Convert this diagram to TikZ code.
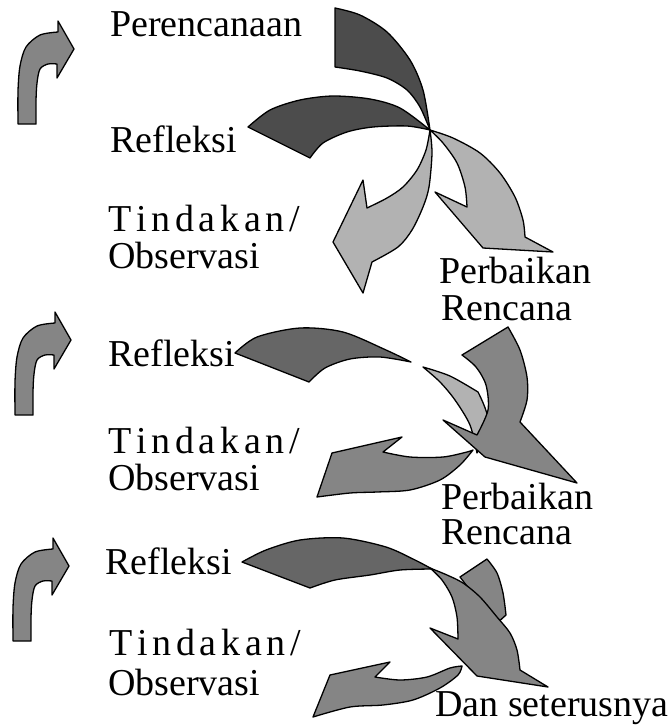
\documentclass[tikz,border=0pt]{standalone}
\usepackage{fontspec}
\setmainfont{Liberation Serif}
\newcommand{\tdk}{T\kern4.7pt i\kern4.7pt n\kern4.7pt d\kern4.7pt a\kern4.7pt k\kern4.7pt a\kern4.7pt n\kern4.7pt /}
\begin{document}
\begin{tikzpicture}[x=1pt,y=-1pt,
  shp/.style={draw=black,line width=1.3pt,line join=round},
  dk/.style={shp,fill=black!70},
  mdk/.style={shp,fill=black!60},
  md/.style={shp,fill=black!48},
  lt/.style={shp,fill=black!30},
  lbl/.style={anchor=base west,inner sep=0pt,font=\fontsize{38}{40}\selectfont}]
\useasboundingbox (0,0) rectangle (672,726);
\fill[white] (0,0) rectangle (672,726);

% ---------- left icons ----------
\foreach \px/\py/\nm in {58/21/a,55/312/b,53/538/c}{
  \begin{scope}[shift={(\px,\py)}]
  \path[md] (0,0) -- (16,28) -- (-1,57) -- (-1,43)
    -- plot[smooth] coordinates {(-1,43) (-10,43) (-18,48) (-21,62) (-22,80) (-22,103)}
    -- (-40,103)
    -- plot[smooth] coordinates {(-40,103) (-40,70) (-38,45) (-32,26) (-18,14) (0,11)}
    -- cycle;
  \end{scope}
}

% ---------- top cycle ----------
\path[lt] plot[smooth] coordinates {(430,130) (432,153) (429,187) (423,207) (412,230) (398,247) (372,262)}
  -- (363,293) -- (333,242) -- (363,180) -- (367,208)
  -- plot[smooth] coordinates {(367,208) (387,198) (403,187) (417,170) (426,150) (430,130)} -- cycle;
\path[lt] plot[smooth] coordinates {(430,130) (453,138) (480,153) (500,173) (515,197) (523,220) (525,237)}
  -- (553,252) -- (483,248) -- (435,192) -- (467,207)
  -- plot[smooth] coordinates {(467,207) (465,187) (457,163) (443,143) (430,130)} -- cycle;
\path[dk] plot[smooth] coordinates {(335,8) (360,15) (387,32) (410,60) (423,90) (430,130)}
  -- plot[smooth] coordinates {(430,130) (420,107) (407,90) (387,78) (360,71) (335,67)} -- cycle;
\path[dk] plot[smooth] coordinates {(248,127) (270,110) (300,100) (333,96) (370,99) (400,108) (430,130)}
  -- plot[smooth] coordinates {(430,130) (407,126) (373,127) (347,132) (323,143) (310,158)} -- cycle;

% ---------- middle cycle ----------
\path[mdk] plot[smooth] coordinates {(235,353) (257,337) (300,328) (343,332) (386,350) (411,362)}
  -- plot[smooth] coordinates {(411,362) (380,357) (350,359) (325,368) (309,382)} -- cycle;
\path[lt] plot[smooth] coordinates {(423,367) (450,376) (478,392)}
  -- plot[smooth] coordinates {(478,392) (488,420) (477,453)}
  -- plot[smooth] coordinates {(477,453) (470,425) (455,400) (440,382) (423,367)} -- cycle;
\path[md] plot[smooth] coordinates {(473,450) (467,452) (443,457) (410,457) (383,452)}
  -- (402,437) -- (332,453) -- (317,497)
  -- plot[smooth] coordinates {(317,497) (350,493) (377,492) (410,490) (440,480) (460,465) (473,450)} -- cycle;
\path[md] (462,355) -- (508,327)
  -- plot[smooth] coordinates {(508,327) (520,350) (527,377) (527,400) (520,422)}
  -- (577,483) -- (485,457) -- (443,420) -- (477,435)
  -- plot[smooth] coordinates {(477,435) (488,410) (486,385) (476,367) (462,355)} -- cycle;

% ---------- bottom cycle ----------
\path[mdk] plot[smooth] coordinates {(242,562) (266,550) (300,540) (343,538) (386,547) (415,560) (432,569)}
  -- plot[smooth] coordinates {(432,569) (400,570) (370,575) (335,580) (310,588)} -- cycle;
\path[md] (460,577) -- (487,559)
  -- plot[smooth] coordinates {(487,559) (497,573) (503,593) (506,615)}
  -- (495,625) -- (470,590) -- cycle;
\path[md] plot[smooth] coordinates {(462,666) (450,668) (427,677) (400,680) (375,677)}
  -- (390,662) -- (330,675) -- (313,717)
  -- plot[smooth] coordinates {(313,717) (350,707) (383,705) (413,700) (440,688) (458,675) (462,666)} -- cycle;
\path[md] plot[smooth] coordinates {(430,568) (447,575) (463,583) (480,597) (497,617) (510,633) (517,650) (520,670)}
  -- (548,687) -- (477,676) -- (430,628) -- (458,639)
  -- plot[smooth] coordinates {(458,639) (457,617) (452,597) (442,580) (430,568)} -- cycle;

% ---------- labels ----------
\node[lbl] (per) at (110,36) {Perencanaan};
\node[lbl] (ref1) at (110,152) {Refleksi};
\node[lbl] (tin1) at (108,231) {\tdk};
\node[lbl] (obs1) at (108,268) {Observasi};
\node[lbl] (pb1) at (439,283) {Perbaikan};
\node[lbl] (rc1) at (441,320) {Rencana};
\node[lbl] (ref2) at (108,366) {Refleksi};
\node[lbl] (tin2) at (108,453) {\tdk};
\node[lbl] (obs2) at (108,490) {Observasi};
\node[lbl] (pb2) at (441,509) {Perbaikan};
\node[lbl] (rc2) at (441,544) {Rencana};
\node[lbl] (ref3) at (105,574) {Refleksi};
\node[lbl] (tin3) at (109,655) {\tdk};
\node[lbl] (obs3) at (108,695) {Observasi};
\node[lbl] (dan) at (435,716) {Dan seterusnya};
\end{tikzpicture}
\end{document}
